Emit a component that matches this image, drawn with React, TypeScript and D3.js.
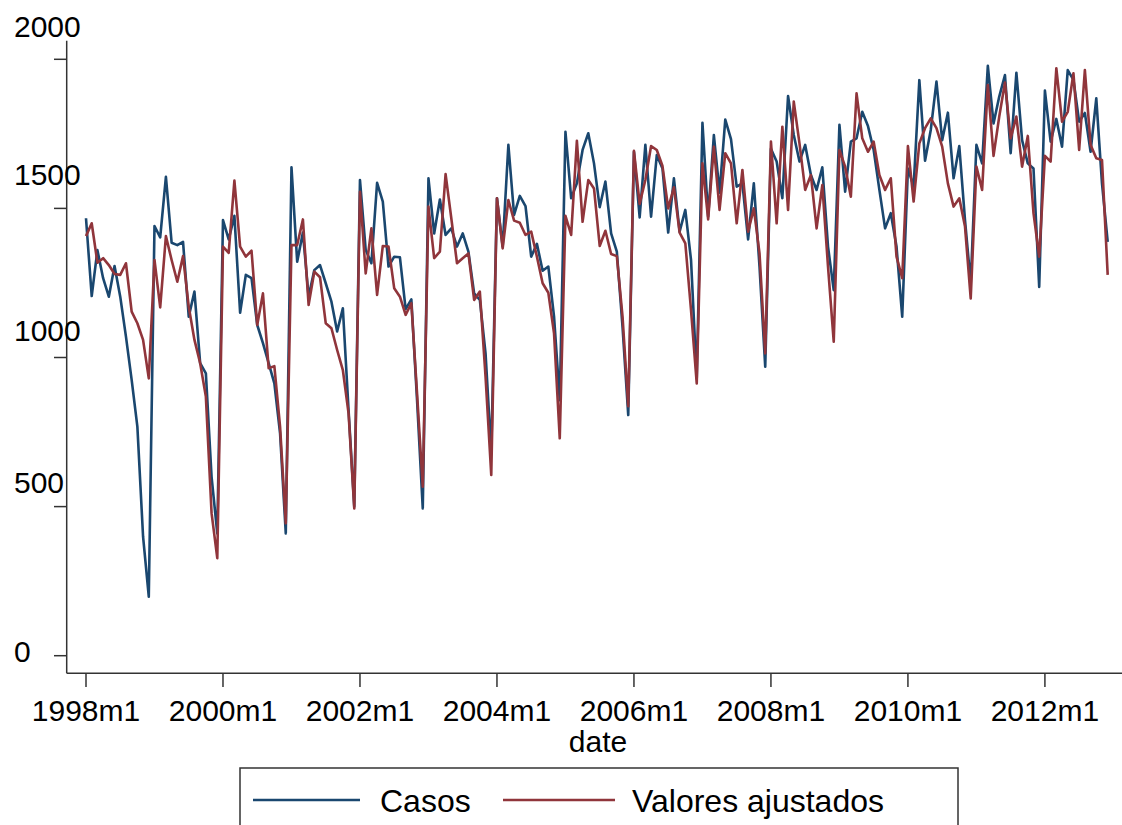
import React from "react";
import * as d3 from "d3";

const startYear = 1998;
const casos: number[] = [
  1467, 1206, 1360, 1266, 1204, 1307, 1204, 1070, 925, 768, 399, 198,
  1441, 1403, 1606, 1385, 1377, 1388, 1137, 1221, 981, 947, 600, 410,
  1461, 1396, 1475, 1150, 1277, 1266, 1109, 1048, 981, 913, 746, 410,
  1638, 1321, 1419, 1204, 1293, 1310, 1249, 1187, 1087, 1165, 824, 500,
  1595, 1361, 1316, 1586, 1523, 1305, 1338, 1336, 1162, 1195, 857, 494,
  1601, 1416, 1530, 1411, 1433, 1372, 1416, 1355, 1215, 1193, 1014, 680,
  1534, 1372, 1713, 1478, 1542, 1508, 1338, 1381, 1291, 1305, 1137, 857,
  1757, 1534, 1584, 1696, 1752, 1651, 1504, 1590, 1416, 1355, 1103, 807,
  1690, 1470, 1713, 1472, 1679, 1634, 1419, 1601, 1422, 1495, 1327, 930,
  1787, 1472, 1746, 1553, 1798, 1732, 1573, 1584, 1396, 1584, 1305, 969,
  1700, 1657, 1534, 1877, 1746, 1657, 1713, 1612, 1562, 1638, 1372, 1226,
  1780, 1556, 1724, 1735, 1824, 1776, 1696, 1562, 1433, 1484, 1372, 1137,
  1634, 1573, 1930, 1660, 1763, 1925, 1729, 1821, 1601, 1709, 1461, 1249,
  1713, 1651, 1978, 1785, 1875, 1947, 1685, 1955, 1729, 1651, 1634, 1237,
  1895, 1724, 1800, 1707, 1964, 1931, 1791, 1820, 1690, 1869, 1584, 1388,
];
const ajustados: number[] = [
  1407, 1450, 1318, 1333, 1310, 1280, 1277, 1316, 1154, 1115, 1059, 930,
  1327, 1168, 1407, 1327, 1254, 1340, 1170, 1059, 981, 869, 478, 327,
  1372, 1351, 1593, 1372, 1338, 1358, 1109, 1215, 964, 971, 768, 444,
  1377, 1377, 1463, 1176, 1288, 1269, 1115, 1098, 1025, 958, 813, 494,
  1556, 1282, 1433, 1210, 1374, 1372, 1232, 1204, 1143, 1182, 880, 567,
  1506, 1333, 1355, 1615, 1467, 1316, 1333, 1349, 1193, 1221, 936, 606,
  1534, 1366, 1528, 1459, 1452, 1411, 1422, 1338, 1249, 1217, 1081, 729,
  1475, 1411, 1727, 1455, 1595, 1567, 1374, 1425, 1347, 1340, 1137, 837,
  1693, 1515, 1595, 1709, 1696, 1642, 1500, 1571, 1419, 1383, 1159, 913,
  1651, 1463, 1707, 1495, 1685, 1651, 1450, 1629, 1422, 1500, 1349, 1014,
  1724, 1450, 1774, 1495, 1858, 1718, 1562, 1612, 1433, 1578, 1305, 1053,
  1696, 1640, 1539, 1886, 1735, 1690, 1724, 1612, 1562, 1601, 1338, 1266,
  1709, 1523, 1718, 1769, 1802, 1769, 1707, 1584, 1506, 1534, 1439, 1198,
  1640, 1562, 1914, 1676, 1808, 1922, 1735, 1808, 1640, 1743, 1484, 1338,
  1676, 1657, 1970, 1791, 1824, 1953, 1696, 1964, 1713, 1668, 1662, 1277,
];
const yTicks = [0, 500, 1000, 1500, 2000];
const xTickMonths = [0, 24, 48, 72, 96, 120, 144, 168];
const seriesNames = ["Casos", "Valores ajustados"];

const BLUE = "#1a476f";
const RED = "#90353b";
const FONT = "'Liberation Sans', Arial, sans-serif";
// label baseline offset relative to tick position (as seen in the reference)
const yLabelOffset: Record<number, number> = { 0: 6, 500: -13.5, 1000: -16.5, 1500: -23.5, 2000: -22.5 };

export default function App() {
  const x = d3.scaleLinear().domain([0, casos.length - 1]).range([86, 1107.7]);
  const y = d3.scaleLinear().domain([0, 2000]).range([655.7, 59.3]);
  const line = d3
    .line<number>()
    .x((_, i) => x(i))
    .y((d) => y(d));

  const axisLeft = 66.7;
  const axisBottom = 673.3;

  return (
    <svg
      width={1122}
      height={825}
      style={{ position: "absolute", left: 0, top: 0, background: "#fff" }}
      fontFamily={FONT}
    >
      <rect x={0} y={0} width={1122} height={825} fill="#fff" />
      {/* axes */}
      <line x1={axisLeft} x2={axisLeft} y1={40.7} y2={axisBottom} stroke="#333" strokeWidth={1.5} />
      <line x1={axisLeft} x2={1122} y1={axisBottom} y2={axisBottom} stroke="#333" strokeWidth={1.5} />
      {yTicks.map((t) => (
        <g key={t}>
          <line x1={54} x2={axisLeft} y1={y(t)} y2={y(t)} stroke="#333" strokeWidth={1.5} />
          <text x={14} y={y(t) + yLabelOffset[t]} fontSize={30} fill="#000">
            {t}
          </text>
        </g>
      ))}
      {xTickMonths.map((m) => (
        <g key={m}>
          <line x1={x(m)} x2={x(m)} y1={axisBottom} y2={687} stroke="#333" strokeWidth={1.5} />
          <text x={x(m)} y={721} fontSize={30} textAnchor="middle" fill="#000">
            {`${startYear + m / 12}m1`}
          </text>
        </g>
      ))}
      <text x={598} y={752} fontSize={30} textAnchor="middle" fill="#000">
        date
      </text>
      {/* series */}
      <path d={line(casos) ?? ""} fill="none" stroke={BLUE} strokeWidth={2.6} strokeLinejoin="round" />
      <path d={line(ajustados) ?? ""} fill="none" stroke={RED} strokeWidth={2.6} strokeLinejoin="round" />
      {/* legend */}
      <rect x={240} y={768} width={718} height={80} fill="#fff" stroke="#333" strokeWidth={1.5} />
      <line x1={253} x2={360} y1={800} y2={800} stroke={BLUE} strokeWidth={2.6} />
      <text x={380} y={812} fontSize={32} fill="#000">
        {seriesNames[0]}
      </text>
      <line x1={503} x2={615} y1={800} y2={800} stroke={RED} strokeWidth={2.6} />
      <text x={632} y={812} fontSize={32} fill="#000">
        {seriesNames[1]}
      </text>
    </svg>
  );
}
